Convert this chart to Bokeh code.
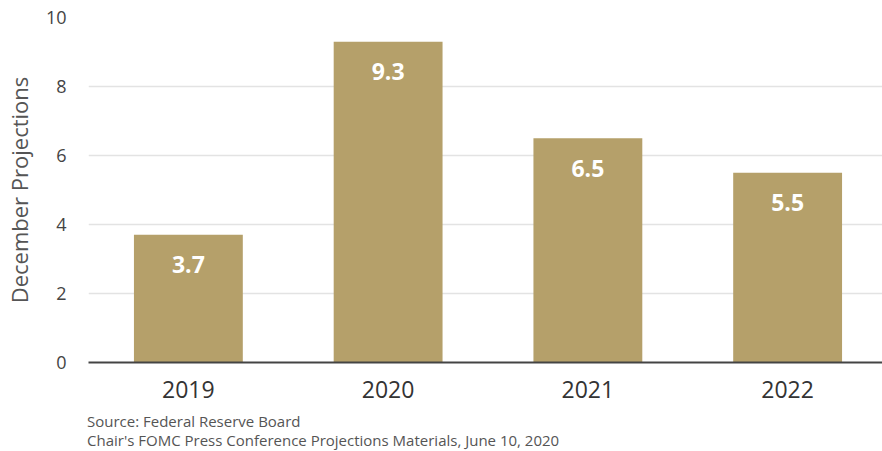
from bokeh.plotting import figure
from bokeh.models import Range1d, ColumnDataSource, Div, SingleIntervalTicker, FixedTicker, LabelSet
from bokeh.layouts import column
from bokeh.core.properties import value
from bokeh.embed import file_html
from bokeh.resources import INLINE

years = ["2019", "2020", "2021", "2022"]
values = [3.7, 9.3, 6.5, 5.5]
value_labels = ["3.7", "9.3", "6.5", "5.5"]
source_lines = ["Source: Federal Reserve Board",
                "Chair's FOMC Press Conference Projections Materials, June 10, 2020"]

FONT = "Open Sans"
BAR = "#b5a06a"

xpos = [i + 0.5 for i in range(len(years))]
src = ColumnDataSource(dict(x=xpos, top=values, lab=value_labels))

p = figure(x_range=Range1d(0, 3.975),
           y_range=Range1d(0, 10),
           width=882, height=405, output_backend="svg", toolbar_location=None,
           min_border_left=88, min_border_right=0, min_border_top=17, min_border_bottom=43)
p.outline_line_color = None
p.background_fill_color = "white"
p.border_fill_color = "white"

p.vbar(x="x", top="top", width=0.545, source=src, fill_color=BAR, line_color=None)

p.add_layout(LabelSet(x="x", y="top", text="lab", source=src, y_offset=-30,
                      text_align="center", text_baseline="middle",
                      text_color="white", text_font=value(FONT), text_font_style="bold",
                      text_font_size="23px"))

p.xgrid.grid_line_color = None
p.ygrid.grid_line_color = "#e3e3e3"
p.ygrid.grid_line_width = 1.5

p.yaxis.ticker = SingleIntervalTicker(interval=2)
p.yaxis.axis_line_color = None
p.yaxis.major_tick_line_color = None
p.yaxis.minor_tick_line_color = None
p.yaxis.major_label_text_font = FONT
p.yaxis.major_label_text_font_size = "18px"
p.yaxis.major_label_text_color = "#444444"
p.yaxis.major_label_standoff = 16
p.yaxis.axis_label = "December Projections"
p.yaxis.axis_label_text_font = FONT
p.yaxis.axis_label_text_font_size = "22px"
p.yaxis.axis_label_text_font_style = "normal"
p.yaxis.axis_label_text_color = "#555555"
p.yaxis.axis_label_standoff = 9

p.xaxis.ticker = FixedTicker(ticks=xpos)
p.xaxis.major_label_overrides = {x: y for x, y in zip(xpos, years)}
p.xaxis.axis_line_color = "#444444"
p.xaxis.axis_line_width = 2
p.xaxis.major_tick_line_color = None
p.xaxis.minor_tick_line_color = None
p.xaxis.major_label_text_font = FONT
p.xaxis.major_label_text_font_size = "23px"
p.xaxis.major_label_text_color = "#333333"
p.xaxis.major_label_standoff = 12

note = Div(text="<br>".join(source_lines), width=882, height=46, margin=(0, 0, 0, 0),
           styles={"font-family": FONT, "font-size": "15px", "line-height": "19px",
                   "color": "#555555", "padding-left": "87px", "padding-top": "7px",
                   "box-sizing": "border-box", "background-color": "white"})

layout = column(p, note, spacing=0)

open("out.html", "w").write(file_html(layout, INLINE))
